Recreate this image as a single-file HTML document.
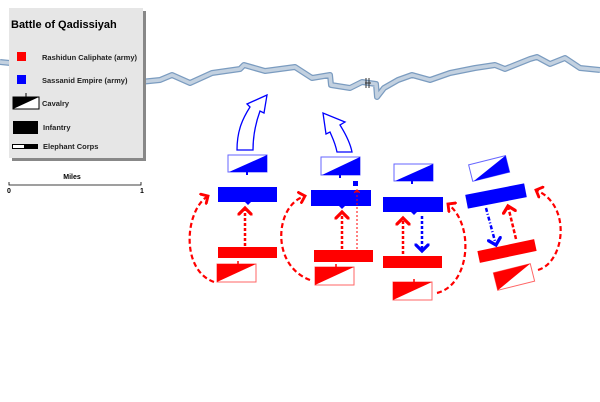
<!DOCTYPE html>
<html><head><meta charset="utf-8"><style>html,body{margin:0;padding:0;background:#fff}svg{display:block}</style></head>
<body>
<svg width="600" height="402" viewBox="0 0 600 402" xmlns="http://www.w3.org/2000/svg" font-family="Liberation Sans, sans-serif">
<defs>
<marker id="ar" markerWidth="6" markerHeight="6" refX="3" refY="3" orient="auto" markerUnits="strokeWidth"><path d="M0,0 L3,3 L0,6" fill="none" stroke="red" stroke-width="1.3"/></marker>
<marker id="ab" markerWidth="6" markerHeight="6" refX="3" refY="3" orient="auto" markerUnits="strokeWidth"><path d="M0,0 L3,3 L0,6" fill="none" stroke="blue" stroke-width="1.3"/></marker>
</defs>
<polyline points="0,62 20,64 60,66 100,70 140,82 160,80 172,75 190,83 212,73 240,69 244,65 265,71 295,67 312,78 330,75 331,85 350,88 362,82 376,84 377,97 384,88 398,80 412,75 430,80 450,73 475,68 495,65 505,69 530,59 537,57 550,64 565,58 580,68 600,70" fill="none" stroke="#7b9cc0" stroke-width="6" stroke-linejoin="round"/>
<polyline points="0,62 20,64 60,66 100,70 140,82 160,80 172,75 190,83 212,73 240,69 244,65 265,71 295,67 312,78 330,75 331,85 350,88 362,82 376,84 377,97 384,88 398,80 412,75 430,80 450,73 475,68 495,65 505,69 530,59 537,57 550,64 565,58 580,68 600,70" fill="none" stroke="#c3d1e0" stroke-width="3.5" stroke-linejoin="round"/>
<path d="M366,78 V88 M369,78 V88 M365,83 H371" stroke="#333" stroke-width="1"/>
<rect x="12" y="11" width="134" height="150" fill="#888"/>
<rect x="9" y="8" width="134" height="150" fill="#e6e6e6"/>
<text x="11" y="28" font-size="11" font-weight="bold">Battle of Qadissiyah</text>
<rect x="17" y="52" width="9" height="9" fill="red"/>
<text x="42" y="60" font-size="7.5" font-weight="bold" fill="#222">Rashidun Caliphate (army)</text>
<rect x="17" y="75" width="9" height="9" fill="blue"/>
<text x="42" y="83" font-size="7.5" font-weight="bold" fill="#222">Sassanid Empire (army)</text>
<rect x="13" y="97" width="26" height="12" fill="#fff" stroke="#000"/><path d="M13,109 L39,97 L13,97 Z" fill="#000"/><path d="M26,97 V93" stroke="#000"/>
<text x="42" y="106" font-size="7.5" font-weight="bold" fill="#222">Cavalry</text>
<rect x="13" y="121" width="25" height="13" fill="#000"/>
<text x="43" y="130" font-size="7.5" font-weight="bold" fill="#222">Infantry</text>
<rect x="12" y="144" width="26" height="5" fill="#000"/><rect x="13" y="145" width="11" height="3" fill="#fff"/>
<text x="43" y="149" font-size="7.5" font-weight="bold" fill="#222">Elephant Corps</text>
<text x="72" y="179" font-size="7" font-weight="bold" text-anchor="middle">Miles</text>
<path d="M9,182 V185 H141 V182" fill="none" stroke="#000" stroke-width="0.8"/>
<text x="9" y="193" font-size="7" font-weight="bold" text-anchor="middle">0</text>
<text x="142" y="193" font-size="7" font-weight="bold" text-anchor="middle">1</text>
<path d="M237,150 C237,130 243,118 250,107 L247,104 L267,95 L264,113 L260,111 C256,122 253,135 253,150 Z" fill="#fff" stroke="blue" stroke-width="1.3"/>
<path d="M337,152 C335,142 332,137 330,132 L326,134 L323,113 L345,122 L340,125 C345,133 350,142 352,152 Z" fill="#fff" stroke="blue" stroke-width="1.3"/>
<!-- group 1 -->
<rect x="228" y="155" width="39" height="17" fill="#fff" stroke="#66f"/><path d="M229,172 L267,155 L267,172 Z" fill="blue"/><path d="M247,172 v3" stroke="blue" stroke-width="2"/>
<rect x="218" y="187" width="59" height="15" fill="blue"/><path d="M245,202 l3,3 l3,-3z" fill="blue"/>
<rect x="218" y="247" width="59" height="11" fill="red"/>
<rect x="217" y="264" width="39" height="18" fill="#fff" stroke="#f66"/><path d="M217,282 L256,264 L217,264 Z" fill="red"/><path d="M238,264 v-3" stroke="red" stroke-width="1.5"/>
<path d="M245,246 V208" stroke="red" stroke-width="2.5" stroke-dasharray="3,2" fill="none" marker-end="url(#ar)"/>
<path d="M214,282 C180,270 185,210 208,196" stroke="red" stroke-width="2.2" stroke-dasharray="5,3" fill="none" marker-end="url(#ar)"/>
<!-- group 2 -->
<rect x="321" y="157" width="39" height="18" fill="#fff" stroke="#66f"/><path d="M322,175 L360,157 L360,175 Z" fill="blue"/><path d="M340,175 v3" stroke="blue" stroke-width="2"/>
<rect x="311" y="190" width="60" height="16" fill="blue"/><path d="M339,206 l3,3 l3,-3z" fill="blue"/>
<rect x="353" y="181" width="5" height="5" fill="blue"/>
<rect x="314" y="250" width="59" height="12" fill="red"/>
<rect x="315" y="267" width="39" height="18" fill="#fff" stroke="#f66"/><path d="M315,285 L354,267 L315,267 Z" fill="red"/><path d="M336,267 v-3" stroke="red" stroke-width="1.5"/>
<path d="M342,249 V212" stroke="red" stroke-width="2.5" stroke-dasharray="3,2" fill="none" marker-end="url(#ar)"/>
<path d="M357,249 V190" stroke="red" stroke-width="1" stroke-dasharray="2,2" fill="none" marker-end="url(#ar)"/>
<path d="M310,280 C270,265 275,205 305,196" stroke="red" stroke-width="2.2" stroke-dasharray="5,3" fill="none" marker-end="url(#ar)"/>
<!-- group 3 -->
<rect x="394" y="164" width="39" height="17" fill="#fff" stroke="#66f"/><path d="M395,181 L433,164 L433,181 Z" fill="blue"/><path d="M412,181 v3" stroke="blue" stroke-width="2"/>
<rect x="383" y="197" width="60" height="15" fill="blue"/><path d="M411,212 l3,3 l3,-3z" fill="blue"/>
<rect x="383" y="256" width="59" height="12" fill="red"/>
<rect x="393" y="282" width="39" height="18" fill="#fff" stroke="#f66"/><path d="M393,300 L432,282 L393,282 Z" fill="red"/><path d="M414,282 v-3" stroke="red" stroke-width="1.5"/>
<path d="M403,254 V218" stroke="red" stroke-width="2.5" stroke-dasharray="3,2" fill="none" marker-end="url(#ar)"/>
<path d="M422,216 V251" stroke="blue" stroke-width="2.5" stroke-dasharray="3,2" fill="none" marker-end="url(#ab)"/>
<path d="M437,293 C470,285 475,225 448,204" stroke="red" stroke-width="2.2" stroke-dasharray="5,3" fill="none" marker-end="url(#ar)"/>
<!-- group 4 -->
<g transform="rotate(-14 489 168)"><rect x="470" y="160" width="38" height="17" fill="#fff" stroke="#66f"/><path d="M471,177 L508,160 L508,177 Z" fill="blue"/></g>
<g transform="rotate(-11 496 196)"><rect x="466" y="189" width="60" height="14" fill="blue"/></g>
<g transform="rotate(-12 507 251)"><rect x="478" y="245" width="58" height="12" fill="red"/></g>
<g transform="rotate(-14 514 277)"><rect x="495" y="268" width="38" height="18" fill="#fff" stroke="#f66"/><path d="M495,286 L533,268 L495,268 Z" fill="red"/></g>
<path d="M486,208 L496,245" stroke="blue" stroke-width="2.5" stroke-dasharray="4,2,1,2" fill="none" marker-end="url(#ab)"/>
<path d="M516,239 L508,206" stroke="red" stroke-width="2.5" stroke-dasharray="4,2" fill="none" marker-end="url(#ar)"/>
<path d="M538,270 C565,262 572,205 536,190" stroke="red" stroke-width="2.2" stroke-dasharray="5,3" fill="none" marker-end="url(#ar)"/>
</svg>
</body></html>
